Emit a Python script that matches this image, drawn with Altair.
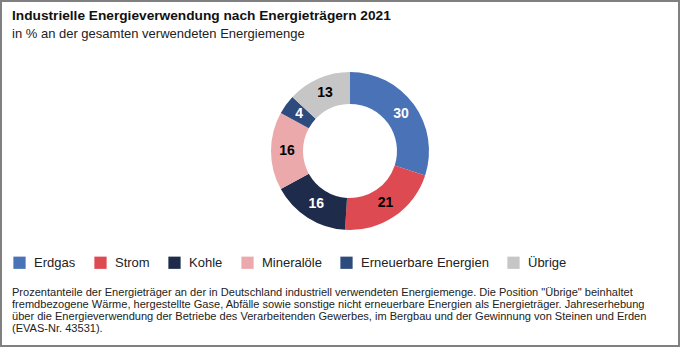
import altair as alt
import pandas as pd

# ---- data ----
categories = ["Erdgas", "Strom", "Kohle", "Mineralöle", "Erneuerbare Energien", "Übrige"]
values = [30, 21, 16, 16, 4, 13]
colors = ["#4a72b6", "#de4a51", "#1e2b4b", "#eca9ab", "#2e4b7d", "#c6c6c6"]
label_colors = ["#ffffff", "#000000", "#ffffff", "#000000", "#ffffff", "#000000"]

title_text = "Industrielle Energieverwendung nach Energieträgern 2021"
subtitle_text = "in % an der gesamten verwendeten Energiemenge"
footer_lines = [
    "Prozentanteile der Energieträger an der in Deutschland industriell verwendeten Energiemenge. Die Position \"Übrige\" beinhaltet",
    "fremdbezogene Wärme, hergestellte Gase, Abfälle sowie sonstige nicht erneuerbare Energien als Energieträger. Jahreserhebung",
    "über die Energieverwendung der Betriebe des Verarbeitenden Gewerbes, im Bergbau und der Gewinnung von Steinen und Erden",
    "(EVAS-Nr. 43531).",
]

FONT = "Liberation Sans"
CX, CY = 350, 151

df = pd.DataFrame({
    "cat": categories,
    "val": values,
    "order": list(range(len(categories))),
})

base = alt.Chart(df)

arcs = base.mark_arc(outerRadius=79, innerRadius=47, stroke=None).encode(
    theta=alt.Theta("val:Q", stack=True),
    order=alt.Order("order:Q", sort="ascending"),
    color=alt.Color(
        "cat:N",
        sort=categories,
        scale=alt.Scale(domain=categories, range=colors),
        legend=alt.Legend(
            title=None,
            orient="none",
            legendX=13,
            legendY=256,
            direction="horizontal",
            columns=6,
            symbolType="square",
            symbolSize=150,
            symbolStrokeWidth=0,
            labelFont=FONT,
            labelFontSize=13,
            labelColor="#222222",
            labelOffset=8,
            columnPadding=18,
        ),
    ),
    x=alt.value(CX),
    y=alt.value(CY),
)

labels = base.mark_text(
    radius=63, font=FONT, fontSize=14, fontWeight="bold"
).encode(
    theta=alt.Theta("val:Q", stack=True),
    order=alt.Order("order:Q", sort="ascending"),
    text=alt.Text("val:Q"),
    color=alt.Color(
        "cat:N",
        scale=alt.Scale(domain=categories, range=label_colors),
        legend=None,
    ),
    x=alt.value(CX),
    y=alt.value(CY),
)

title = alt.Chart(pd.DataFrame({"t": [title_text]})).mark_text(
    align="left", baseline="alphabetic", font=FONT, fontSize=13.7, fontWeight="bold", color="#111111"
).encode(text="t:N", x=alt.value(12), y=alt.value(20))

subtitle = alt.Chart(pd.DataFrame({"t": [subtitle_text]})).mark_text(
    align="left", baseline="alphabetic", font=FONT, fontSize=13, color="#222222"
).encode(text="t:N", x=alt.value(12), y=alt.value(38))

footer_df = pd.DataFrame({"t": footer_lines, "i": list(range(len(footer_lines)))})
footer = alt.Chart(footer_df).mark_text(
    align="left", baseline="alphabetic", font=FONT, fontSize=11.05, color="#222222"
).encode(
    text="t:N",
    x=alt.value(12),
    y=alt.Y("i:O", axis=None, scale=alt.Scale(domain=[0, 1, 2, 3], range=[290, 338])),
)

border = alt.Chart(pd.DataFrame({"a": [0]})).mark_rect(
    filled=False, stroke="#808080", strokeWidth=2
).encode(
    x=alt.value(1), x2=alt.value(679), y=alt.value(1), y2=alt.value(346)
)

chart = alt.layer(arcs, labels, title, subtitle, footer, border).resolve_scale(
    color="independent"
).properties(
    width=680, height=347, padding=0, autosize=alt.AutoSizeParams(type="none"),
    background="white",
).configure_view(stroke=None)

chart.save("out.html", embed_options={"renderer": "svg", "actions": False})
